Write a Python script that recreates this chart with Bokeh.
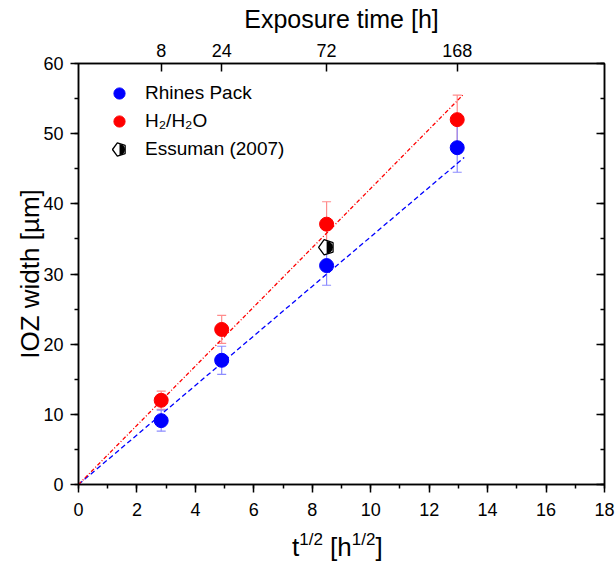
import math
from bokeh.plotting import figure
from bokeh.layouts import column
from bokeh.models import (Range1d, LinearAxis, SingleIntervalTicker, FixedTicker,
                          CustomJSTickFormatter, ColumnDataSource, Whisker, TeeHead,
                          Legend, LegendItem, Div)
from bokeh.embed import file_html
from bokeh.resources import INLINE

# ---------------- data ----------------
exposure_h = [8, 24, 72, 168]
sqrt_t = [2.83, 4.90, 8.49, 12.96]
rhines = [9.1, 17.7, 31.2, 48.0]
rhines_err = [1.5, 2.0, 2.8, 3.5]
h2h2o = [12.0, 22.1, 37.1, 52.0]
h2h2o_err = [1.3, 2.0, 3.2, 3.5]
essuman_x = [8.49]
essuman_y = [33.8]
fit_x = [0.0, 13.2]
rhines_fit = [0.0, 46.6]
h2h2o_fit = [0.0, 55.7]
legend_labels = ["Rhines Pack", "H₂/H₂O", "Essuman (2007)"]

FONT = "Liberation Sans"
BLUE = "#0000ff"
RED = "#ff0000"

# layout constants (pixels)
W, H = 615, 526
BL, BR, BT, BB = 78, 11, 63, 42
FW, FH = W - BL - BR, H - BT - BB
X0, X1, Y0, Y1 = 0, 18, 0, 60

p = figure(width=W, height=H, x_range=Range1d(X0, X1), y_range=Range1d(Y0, Y1),
           x_axis_type=None, y_axis_type=None, output_backend="svg",
           toolbar_location=None, min_border_left=BL, min_border_right=BR,
           min_border_top=BT, min_border_bottom=BB)
p.grid.visible = False
p.outline_line_color = "black"
p.outline_line_width = 1.5
p.background_fill_color = "white"
p.border_fill_color = "white"


def style(ax, tick_font="18px"):
    ax.axis_line_color = "black"
    ax.axis_line_width = 1.5
    ax.major_tick_line_color = "black"
    ax.major_tick_line_width = 1.5
    ax.minor_tick_line_color = "black"
    ax.minor_tick_line_width = 1.5
    ax.major_label_text_font = FONT
    ax.major_label_text_font_size = tick_font
    ax.major_label_text_color = "black"
    ax.axis_label_text_font = FONT
    ax.axis_label_text_font_style = "normal"
    ax.axis_label_text_color = "black"


# bottom axis
xb = LinearAxis(ticker=SingleIntervalTicker(interval=2, num_minor_ticks=2))
style(xb)
xb.major_tick_out = 8
xb.major_tick_in = 0
xb.minor_tick_out = 4
xb.minor_tick_in = 0
xb.major_label_standoff = 10
p.add_layout(xb, "below")

# left axis
yl = LinearAxis(ticker=SingleIntervalTicker(interval=10, num_minor_ticks=2),
                axis_label="IOZ width [µm]")
style(yl)
yl.major_tick_out = 8
yl.major_tick_in = 0
yl.minor_tick_out = 4
yl.minor_tick_in = 0
yl.major_label_standoff = 7
yl.axis_label_text_font_size = "26px"
yl.axis_label_standoff = -5
p.add_layout(yl, "left")

# right axis (ticks only)
yr = LinearAxis(ticker=SingleIntervalTicker(interval=10, num_minor_ticks=2),
                formatter=CustomJSTickFormatter(code="return ''"))
style(yr)
yr.major_tick_in = 8
yr.major_tick_out = 0
yr.minor_tick_in = 4
yr.minor_tick_out = 0
yr.major_label_standoff = 0
yr.major_label_text_font_size = "1px"
p.add_layout(yr, "right")

# top axis: exposure time in hours at sqrt positions
xt = LinearAxis(ticker=FixedTicker(ticks=sqrt_t, minor_ticks=[]),
                formatter=CustomJSTickFormatter(code="return String(Math.round(tick*tick))"),
                axis_label="Exposure time [h]")
style(xt)
xt.major_tick_in = 8
xt.major_tick_out = 0
xt.minor_tick_in = 0
xt.minor_tick_out = 0
xt.major_label_standoff = 7
xt.axis_label_text_font_size = "25px"
xt.axis_label_standoff = 8
p.add_layout(xt, "above")

# fit lines
p.line(fit_x, rhines_fit, line_color=BLUE, line_width=1.3, line_dash="5 3")
p.line(fit_x, h2h2o_fit, line_color=RED, line_width=1.3, line_dash="4 2 1 2")

# error bars
src_b = ColumnDataSource(dict(x=sqrt_t, y=rhines,
                              lo=[v - e for v, e in zip(rhines, rhines_err)],
                              hi=[v + e for v, e in zip(rhines, rhines_err)]))
src_r = ColumnDataSource(dict(x=sqrt_t, y=h2h2o,
                              lo=[v - e for v, e in zip(h2h2o, h2h2o_err)],
                              hi=[v + e for v, e in zip(h2h2o, h2h2o_err)]))
for src, col in ((src_r, "#ff8c8c"), (src_b, "#8c8cff")):
    w = Whisker(source=src, base="x", upper="hi", lower="lo", dimension="height",
                line_color=col, line_width=1.2,
                upper_head=TeeHead(size=9, line_color=col, line_width=1.2),
                lower_head=TeeHead(size=9, line_color=col, line_width=1.2))
    p.add_layout(w)

r_b = p.scatter(sqrt_t, rhines, size=14, marker="circle", fill_color=BLUE, line_color=BLUE)
r_r = p.scatter(sqrt_t, h2h2o, size=14, marker="circle", fill_color=RED, line_color=RED)


def half_pentagon(src, R):
    p.ngon(x="x", y="y", source=src, radius=R, radius_units="screen", n=5,
           angle=math.pi / 2, fill_color="white", line_color=None)
    p.wedge(x="x", y="y", source=src, radius=R * 0.79, radius_units="screen",
            start_angle=-math.pi / 2, end_angle=math.pi / 2,
            fill_color="black", line_color=None)
    p.ngon(x="x", y="y", source=src, radius=R, radius_units="screen", n=5,
           angle=math.pi / 2, fill_color=None, line_color="black", line_width=1.3)


half_pentagon(ColumnDataSource(dict(x=essuman_x, y=essuman_y)), 8)

# legend
LEG_X, LEG_Y, GW, GH, SP = 25, 321, 32, 28, 0
legend = Legend(items=[
    LegendItem(label=legend_labels[0], renderers=[r_b]),
    LegendItem(label=legend_labels[1], renderers=[r_r]),
    LegendItem(label=legend_labels[2], renderers=[]),
], location=(LEG_X, LEG_Y))
legend.label_text_font = FONT
legend.label_text_font_size = "19px"
legend.label_text_color = "black"
legend.glyph_width = GW
legend.glyph_height = GH
legend.label_standoff = 10
legend.spacing = SP
legend.padding = 0
legend.margin = 0
legend.border_line_color = None
legend.background_fill_alpha = 0
p.add_layout(legend, "center")

# symbol for the third legend row, placed at that row's glyph box centre
n_rows = len(legend_labels)
leg_h = n_rows * GH + (n_rows - 1) * SP
row3_px_x = LEG_X + GW / 2
row3_px_y = LEG_Y + leg_h - (2 * (GH + SP) + GH / 2)
leg_sym = ColumnDataSource(dict(x=[X0 + row3_px_x / FW * (X1 - X0)],
                                y=[Y0 + row3_px_y / FH * (Y1 - Y0)]))
half_pentagon(leg_sym, 7)

# bottom axis title with superscripts
sup = 'style="font-size:17px;vertical-align:11px;line-height:0"'
title = Div(text=('<div style="padding-left:292px;padding-top:8px;'
                  'font-family:\'Liberation Sans\';font-size:26px;line-height:26px;'
                  'color:black;white-space:nowrap">'
                  f't<span {sup}>1/2</span> [h<span {sup}>1/2</span>]</div>'),
            width=W, height=566 - H, margin=0)

layout = column(p, title, spacing=0)
open("out.html", "w").write(file_html(layout, INLINE))
